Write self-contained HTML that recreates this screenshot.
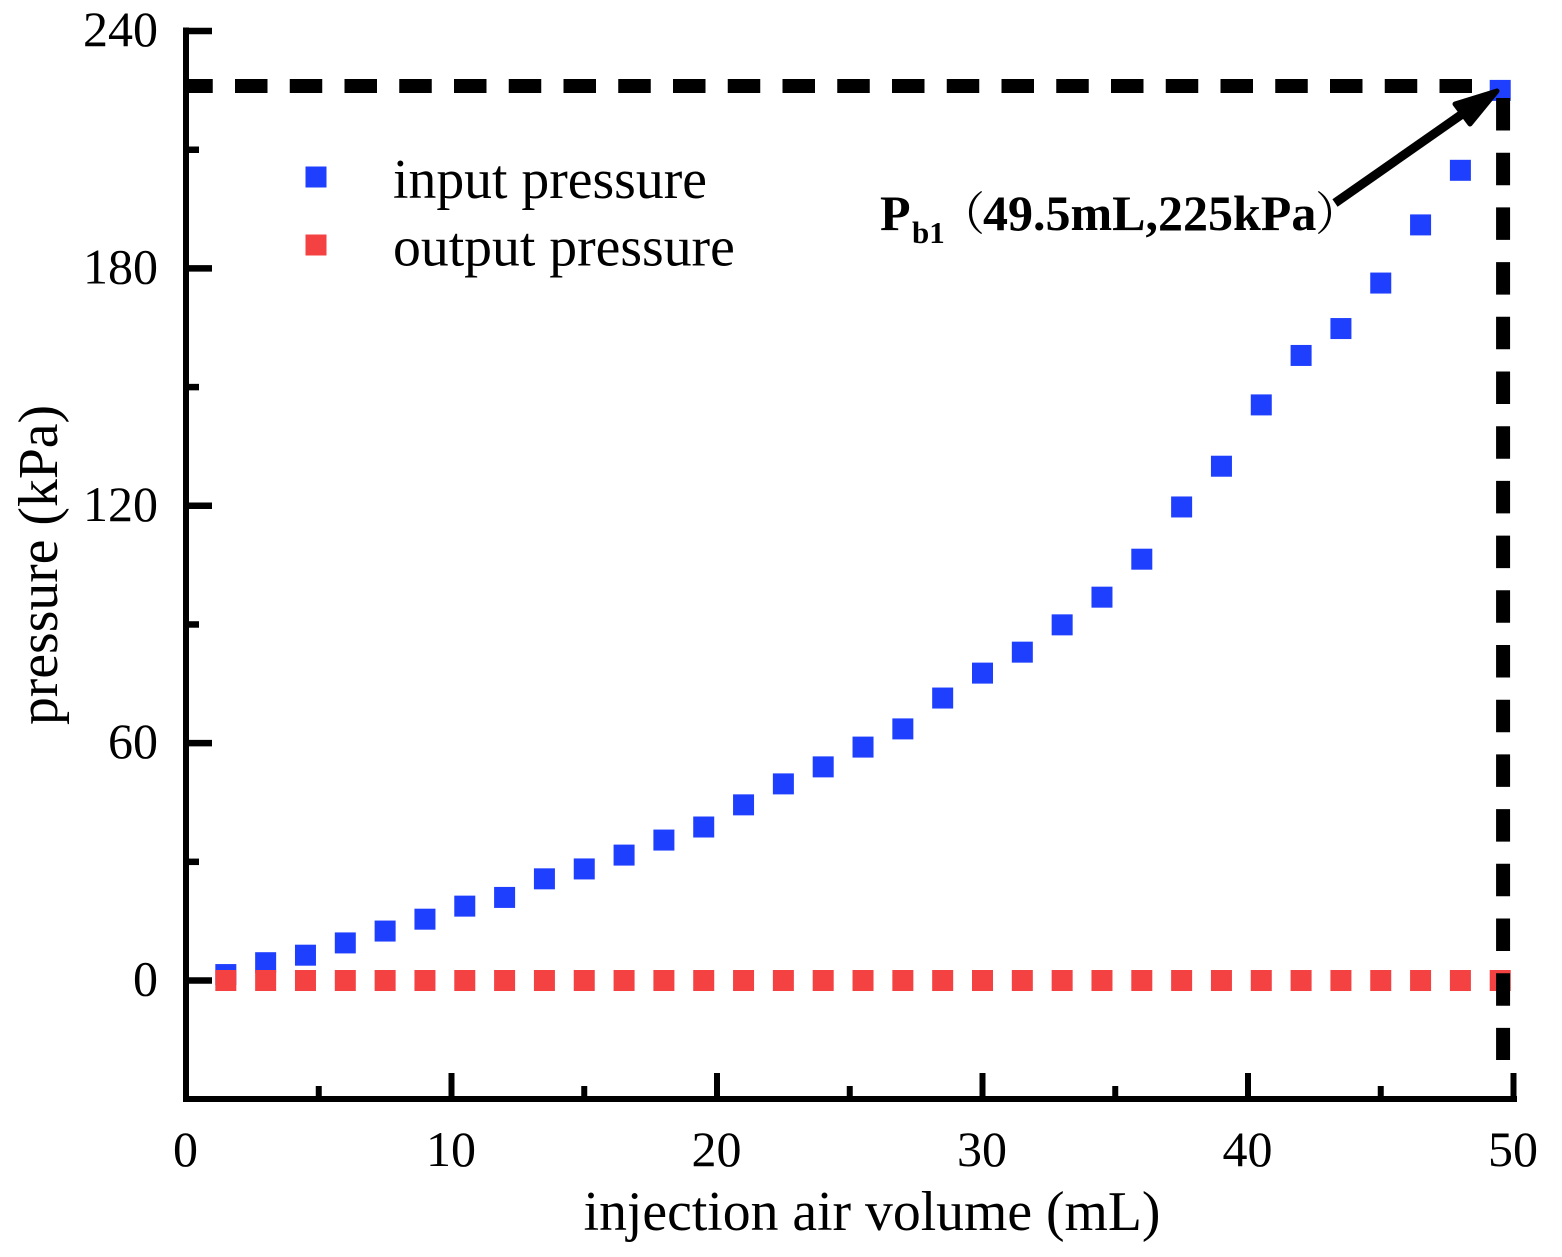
<!DOCTYPE html>
<html>
<head>
<meta charset="utf-8">
<title>Pressure vs injection air volume</title>
<style>
html,body{margin:0;padding:0;background:#fff;width:1562px;height:1257px;overflow:hidden}
svg{display:block}
text{font-family:"Liberation Serif","Noto Serif CJK SC",serif;fill:#000}
</style>
</head>
<body>
<svg id="chart" xmlns="http://www.w3.org/2000/svg" width="1562" height="1257" viewBox="0 0 1562 1257"></svg>
<script>
const xTickLabels = [0, 10, 20, 30, 40, 50];
const xMinorTicks = [5, 15, 25, 35, 45];
const yTickLabels = [0, 60, 120, 180, 240];
const yMinorTicks = [30, 90, 150, 210];
const injectionVolume = [1.5, 3, 4.5, 6, 7.5, 9, 10.5, 12, 13.5, 15, 16.5, 18, 19.5, 21, 22.5, 24, 25.5, 27, 28.5, 30, 31.5, 33, 34.5, 36, 37.5, 39, 40.5, 42, 43.5, 45, 46.5, 48, 49.5];
const inputPressure = [1.5, 4.5, 6.4, 9.5, 12.5, 15.5, 18.8, 21, 25.7, 28.2, 31.7, 35.5, 38.8, 44.4, 49.7, 54, 59, 63.6, 71.4, 77.7, 83, 89.9, 96.9, 106.5, 119.7, 130, 145.5, 158, 164.8, 176.3, 191, 204.8, 225];
const outputPressure = [0, 0, 0, 0, 0, 0, 0, 0, 0, 0, 0, 0, 0, 0, 0, 0, 0, 0, 0, 0, 0, 0, 0, 0, 0, 0, 0, 0, 0, 0, 0, 0, 0];
const peakVolume = 49.6;

const NS = 'http://www.w3.org/2000/svg';
const svg = document.getElementById('chart');
const xScale = v => 186 + v * 26.55;
const yScale = v => 980.5 - v * 3.956;
const AXIS_BOTTOM = 1099;
const AXIS_LEFT = 186;
const AXIS_RIGHT = 1514;
const AXIS_TOP = 31;

function make(tag, props, text) {
  const el = document.createElementNS(NS, tag);
  for (const k in props) el.setAttribute(k, props[k]);
  if (text !== undefined) el.textContent = text;
  svg.appendChild(el);
  return el;
}

// series
injectionVolume.forEach((v, i) => {
  const r = make('rect', {x: xScale(v) - 10.5, y: yScale(inputPressure[i]) - 10.5, width: 21, height: 21, fill: '#1f3fff'});
  
  
});
injectionVolume.forEach((v, i) => {
  const r = make('rect', {x: xScale(v) - 10.5, y: yScale(outputPressure[i]) - 10.5, width: 21, height: 21, fill: '#f44242'});
  
  
});

// dashed reference lines
const hRef = make('line', {x1: 186, y1: 86, x2: 1472, y2: 86, stroke: '#000', 'stroke-width': 14, 'stroke-dasharray': '32.5 22.25', 'stroke-dashoffset': 5.75});


const vRef = make('line', {x1: xScale(peakVolume) + 0.2, y1: 98, x2: xScale(peakVolume) + 0.2, y2: 1060, stroke: '#000', 'stroke-width': 14, 'stroke-dasharray': '32.5 22.2'});



// axes
const xAxis = make('line', {x1: AXIS_LEFT - 3, y1: AXIS_BOTTOM, x2: AXIS_RIGHT + 3, y2: AXIS_BOTTOM, stroke: '#000', 'stroke-width': 6});


const yAxis = make('line', {x1: AXIS_LEFT, y1: AXIS_TOP - 3.5, x2: AXIS_LEFT, y2: AXIS_BOTTOM + 3, stroke: '#000', 'stroke-width': 6});



xTickLabels.forEach(v => {
  const t = make('line', {x1: xScale(v), y1: AXIS_BOTTOM, x2: xScale(v), y2: 1073, stroke: '#000', 'stroke-width': 6});
  
  
  const l = make('text', {x: xScale(v) - 0.5, y: 1166, 'text-anchor': 'middle', 'font-size': 50}, v);
  
  
});
xMinorTicks.forEach(v => {
  const t = make('line', {x1: xScale(v), y1: AXIS_BOTTOM, x2: xScale(v), y2: 1086, stroke: '#000', 'stroke-width': 6});
  
  
});
yTickLabels.forEach(v => {
  const t = make('line', {x1: AXIS_LEFT, y1: yScale(v), x2: 212, y2: yScale(v), stroke: '#000', 'stroke-width': 6.5});
  
  
  const l = make('text', {x: 158, y: yScale(v) + 15, 'text-anchor': 'end', 'font-size': 50}, v);
  
  
});
yMinorTicks.forEach(v => {
  const t = make('line', {x1: AXIS_LEFT, y1: yScale(v), x2: 199, y2: yScale(v), stroke: '#000', 'stroke-width': 6.5});
  
  
});

// axis titles
const xTitle = make('text', {x: 872, y: 1230, 'text-anchor': 'middle', 'font-size': 55.7}, 'injection air volume (mL)');


const yTitle = make('text', {x: 0, y: 0, 'text-anchor': 'middle', 'font-size': 55.7, transform: 'translate(57,565) rotate(-90)'}, 'pressure (kPa)');



// legend
const legendBlue = make('rect', {x: 305.5, y: 166.5, width: 21, height: 21, fill: '#1f3fff'});


const legendBlueText = make('text', {x: 393, y: 198, 'font-size': 55.7}, 'input pressure');


const legendRed = make('rect', {x: 305.5, y: 234.5, width: 21, height: 21, fill: '#f44242'});


const legendRedText = make('text', {x: 393, y: 265.5, 'font-size': 55.7}, 'output pressure');



// annotation text
const a1 = make('text', {x: 880, y: 230, 'font-size': 50, 'font-weight': 'bold'}, 'P');


const a2 = make('text', {x: 912, y: 243, 'font-size': 31, 'font-weight': 'bold'}, 'b1');


const a3 = make('text', {x: 939, y: 230, 'font-size': 46, style: 'font-family:"Noto Serif CJK SC",serif'}, '（');


const a4 = make('text', {x: 983, y: 230, 'font-size': 50, 'font-weight': 'bold'}, '49.5mL,225kPa');


const a5 = make('text', {x: 1315, y: 230, 'font-size': 46, style: 'font-family:"Noto Serif CJK SC",serif'}, '）');



// arrow
const arrowShaft = make('line', {x1: 1335, y1: 203, x2: 1468, y2: 110, stroke: '#000', 'stroke-width': 9});


const arrowHead = make('polygon', {points: '1497,91 1455,104 1470,124', fill: '#000', stroke: '#000', 'stroke-width': 5, 'stroke-linejoin': 'round'});


</script>
</body>
</html>
